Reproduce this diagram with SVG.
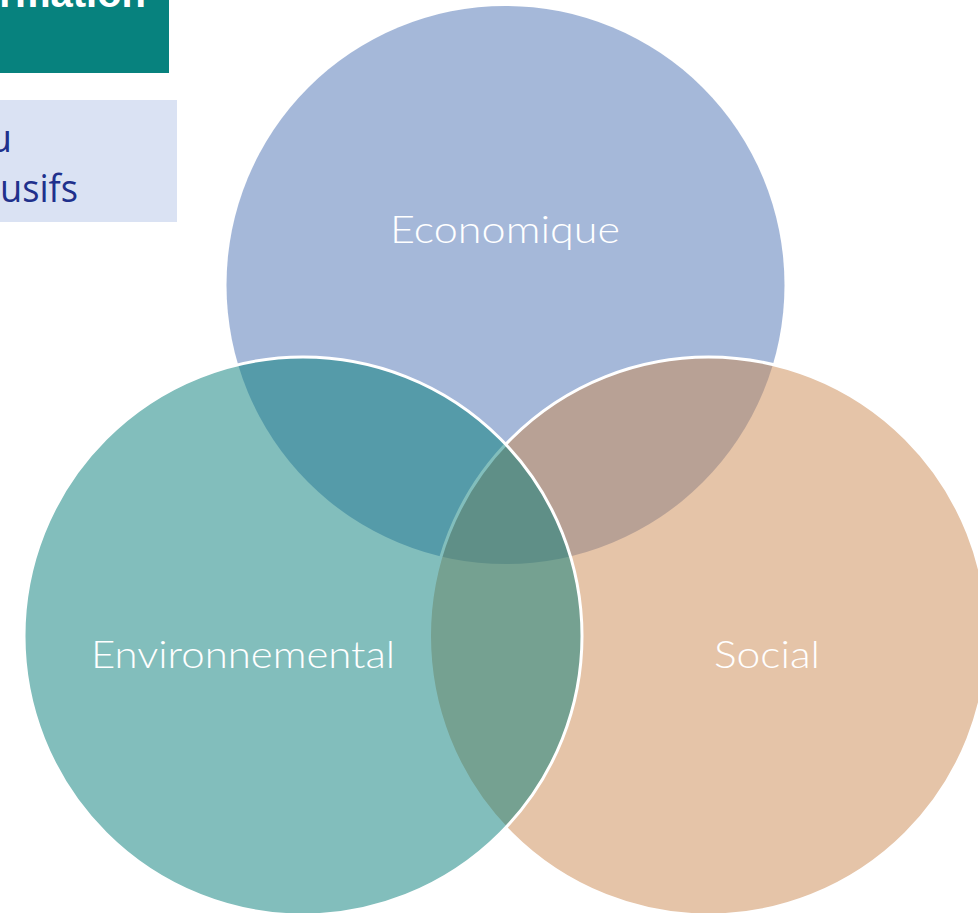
<svg xmlns="http://www.w3.org/2000/svg" width="978" height="913" viewBox="0 0 978 913">
<style>
.lbl{font-family:Lato,"Liberation Sans",sans-serif;font-weight:300;font-size:37px;fill:#ffffff;}
.box{font-family:"Open Sans","Liberation Sans",sans-serif;font-size:38px;fill:#20308c;}
.c{fill-opacity:0.5;}
.s{fill:none;stroke:#ffffff;stroke-width:3;}
</style>
<rect width="978" height="913" fill="#ffffff"/>
<g id="banner">
<rect x="0" y="0" width="169" height="73" fill="#07827e"/>
<text x="146" y="7" text-anchor="end" font-family="'Liberation Sans',sans-serif" font-weight="bold" font-size="40" fill="#ffffff">rmation</text>
</g>
<g id="textbox">
<rect x="0" y="100" width="177" height="122" fill="#dae2f3"/>
<text class="box" x="12" y="152" text-anchor="end">u</text>
<text class="box" x="0" y="202" textLength="78" lengthAdjust="spacingAndGlyphs">usifs</text>
</g>
<g id="economique">
<circle class="c" cx="505.5" cy="285" r="279" fill="#4b71b3"/>
</g>
<g id="social">
<circle class="c" cx="708.5" cy="636" r="279" fill="#cb8951"/>
<circle class="s" cx="708.5" cy="636" r="279"/>
</g>
<g id="environnemental">
<circle class="c" cx="303" cy="636" r="279" fill="#057d79"/>
<circle class="s" cx="303" cy="636" r="279"/>
</g>
<g id="labels">
<text class="lbl" x="505" y="243" text-anchor="middle" textLength="230" lengthAdjust="spacingAndGlyphs">Economique</text>
<text class="lbl" x="243" y="668" text-anchor="middle" textLength="304" lengthAdjust="spacingAndGlyphs">Environnemental</text>
<text class="lbl" x="767" y="668" text-anchor="middle" textLength="106" lengthAdjust="spacingAndGlyphs">Social</text>
</g>
</svg>
